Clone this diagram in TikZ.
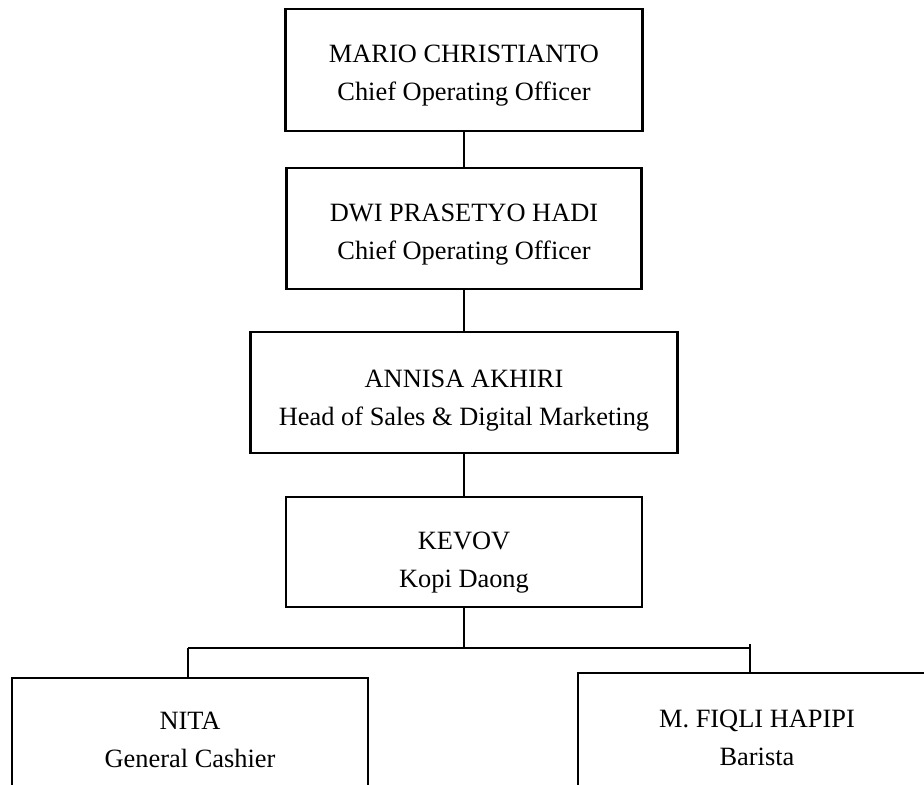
\documentclass[tikz,border=0pt]{standalone}
\usepackage{fontspec}
\setmainfont{Liberation Serif}
\usepackage{tikz}
\usetikzlibrary{calc}
\tikzstyle{post}=[rectangle,draw=black,line width=1.3pt,align=center,
  inner sep=0pt,font=\fontsize{13.2}{19}\selectfont]
\tikzstyle{link}=[line width=1.2pt]
% taller first line, so the text sits a little low in its box
\newcommand{\lowby}[1]{\rule{0pt}{#1}}

\begin{document}
\begin{tikzpicture}[x=0.5pt, y=-0.5pt]
        \useasboundingbox (0,0) rectangle (924,785);
        \clip (0,0) rectangle (924,785);
        \node[style=post, minimum width=178.5pt, minimum height=61pt] (mario) at (464,70) {\lowby{14pt}MARIO CHRISTIANTO\\Chief Operating Officer};
        \node[style=post, minimum width=177.5pt, minimum height=60.5pt] (dwi) at (464,228.5) {\lowby{15pt}DWI PRASETYO HADI\\Chief Operating Officer};
        \node[style=post, minimum width=213.5pt, minimum height=60.5pt] (annisa) at (464,392.5) {\lowby{17pt}ANNISA AKHIRI\\Head of Sales \& Digital Marketing};
        \node[style=post, minimum width=178pt, minimum height=55pt] (kevov) at (464,552) {\lowby{19pt}KEVOV\\Kopi Daong};
        \node[style=post, minimum width=178pt, minimum height=62pt] (nita) at (190,740) {NITA\\General Cashier};
        \node[style=post, minimum width=179pt, minimum height=62pt] (fiqli) at (757,735) {\lowby{12pt}M. FIQLI HAPIPI\\Barista};
        \coordinate (fork) at (464,648);
        \coordinate (legL) at (188,648);
        \coordinate (legR) at (750,644);
        \draw[style=link] (mario) to (dwi);
        \draw[style=link] (dwi) to (annisa);
        \draw[style=link] (annisa) to (kevov);
        \draw[style=link] (kevov) to (fork);
        \draw[style=link] (legL) to (legR |- fork);
        \draw[style=link] (legL) to (legL |- nita.north);
        \draw[style=link] (legR) to (legR |- fiqli.north);
    \end{tikzpicture}
\end{document}
